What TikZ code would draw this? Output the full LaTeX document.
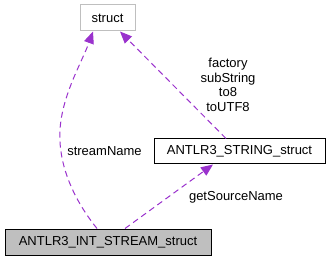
\documentclass[tikz,border=0pt]{standalone}
\usepackage{fontspec}
\setmainfont{Liberation Sans}
\usetikzlibrary{arrows.meta}
\definecolor{edgepurple}{HTML}{9A32CD}
\definecolor{boxgray}{HTML}{BFBFBF}
\begin{document}
\begin{tikzpicture}[x=1pt,y=-1pt,
  every node/.style={font=\fontsize{13}{14.5}\selectfont, inner sep=0pt},
  classbox/.style={draw=black, line width=1pt, minimum height=25pt},
  extbox/.style={draw=boxgray, line width=1pt, minimum height=26pt},
  focusbox/.style={classbox, fill=boxgray, minimum height=26pt},
  uses/.style={draw=edgepurple, line width=1pt, dash pattern=on 6pt off 4pt,
    -{Triangle[length=12pt,width=10pt,fill=edgepurple]}},
  lbl/.style={align=center, text=black}]
\useasboundingbox (0,0) rectangle (331,261);

\node[extbox, minimum width=55pt] (struct) at (107.5,18) {struct};
\node[classbox, minimum width=171pt] (str) at (239.5,151.5) {ANTLR3\_STRING\_struct};
\node[focusbox, minimum width=206pt] (int) at (108,242) {ANTLR3\_INT\_STREAM\_struct};

% member links
\draw[uses] ([xshift=-11pt]int.north) .. controls (74,200) and (58,165) .. (60,130)
  .. controls (62,95) and (82,62) .. ([xshift=-14.5pt]struct.south);
\draw[uses] ([xshift=-13.5pt]str.north) -- ([xshift=12.5pt]struct.south);
\draw[uses] ([xshift=17pt]int.north) -- ([xshift=-26.5pt]str.south);

\node[lbl] (lsn) at (104.5,151) {streamName};
\node[lbl, text width=80pt] (lfac) at (228,85) {factory\\subString\\to8\\toUTF8};
\node[lbl] (lgsn) at (236,197) {getSourceName};
\end{tikzpicture}
\end{document}
